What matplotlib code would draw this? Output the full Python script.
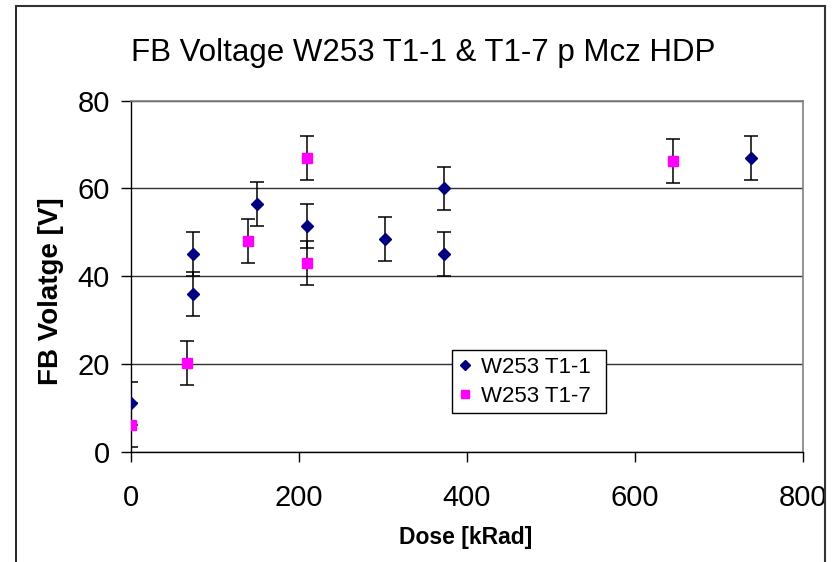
import matplotlib.pyplot as plt
from matplotlib.lines import Line2D

# W253 T1-1 (diamonds)
dose_t11 = [0, 74, 74, 150, 210, 303, 373, 373, 738]
volt_t11 = [11, 45, 36, 56.5, 51.5, 48.5, 60, 45, 67]
err_t11 = [5, 5, 5, 5, 5, 5, 5, 5, 5]

# W253 T1-7 (squares)
dose_t17 = [0, 67, 140, 210, 210, 645]
volt_t17 = [6, 20.3, 48, 67, 43, 66.3]
err_t17 = [5, 5, 5, 5, 5, 5]

plt.rcParams['font.family'] = ['Liberation Sans', 'DejaVu Sans']

W, H = 832, 562
fig = plt.figure(figsize=(W / 100, H / 100), dpi=100)
ax = fig.add_axes([130.7 / W, 1 - 451.7 / H, (803 - 130.7) / W, (451.7 - 100.7) / H])

ax.errorbar(dose_t11, volt_t11, yerr=err_t11, fmt='D', color='#000080',
            markersize=6.5, ecolor='black', elinewidth=1.1, capsize=5,
            capthick=1.1, zorder=3)
ax.errorbar(dose_t17, volt_t17, yerr=err_t17, fmt='s', color='#FF00FF',
            markersize=7, ecolor='black', elinewidth=1.1, capsize=5,
            capthick=1.1, zorder=3)

ax.set_xlim(0, 800)
ax.set_ylim(0, 80)
ax.set_xticks([0, 200, 400, 600, 800])
ax.set_yticks([0, 20, 40, 60, 80])
ax.yaxis.grid(True, color='#303030', linewidth=1.0)
ax.set_axisbelow(True)

for s in ['top', 'right']:
    ax.spines[s].set_color('#808080')
    ax.spines[s].set_linewidth(1.2)
for s in ['left', 'bottom']:
    ax.spines[s].set_color('black')
    ax.spines[s].set_linewidth(1.0)

ax.tick_params(direction='out', length=7, width=1.0, labelsize=21)
ax.tick_params(axis='x', pad=16)
ax.tick_params(axis='y', pad=8)

ax.set_xlabel('Dose [kRad]', fontsize=16.5, fontweight='bold')
ax.xaxis.set_label_coords((466 - 130.7) / 672.3, (451.7 - 526) / 351)
ax.set_ylabel('FB Volatge [V]', fontsize=20, fontweight='bold')
ax.yaxis.set_label_coords((64 - 130.7) / 672.3, (451.7 - 291) / 351)
fig.text(423 / W, 1 - 61 / H, 'FB Voltage W253 T1-1 & T1-7 p Mcz HDP',
         ha='center', va='baseline', fontsize=22.5)

handles = [Line2D([], [], marker='D', color='#000080', linestyle='none', markersize=5),
           Line2D([], [], marker='s', color='#FF00FF', linestyle='none', markersize=6)]
leg = ax.legend(handles, ['W253 T1-1', 'W253 T1-7'], loc='lower left',
                bbox_to_anchor=((451.7 - 130.7) / (803 - 130.7), (451.7 - 413.3) / 351,
                                154 / (803 - 130.7), 81.6 / 351),
                mode='expand', fontsize=16, frameon=True, fancybox=False,
                edgecolor='black', handlelength=0.6, handletextpad=0.4,
                borderaxespad=0, labelspacing=0.35, borderpad=0.3)
leg.get_frame().set_linewidth(1.0)
leg.get_frame().set_alpha(1)

# outer chart frame
fig.add_artist(Line2D([16 / W, 16 / W], [0, 1 - 6 / H], color='black', lw=1.2))
fig.add_artist(Line2D([16 / W, 825 / W], [1 - 6 / H, 1 - 6 / H], color='#333333', lw=1.5))
fig.add_artist(Line2D([825 / W, 825 / W], [0, 1 - 6 / H], color='#333333', lw=1.5))

fig.savefig('out.png', dpi=100)
